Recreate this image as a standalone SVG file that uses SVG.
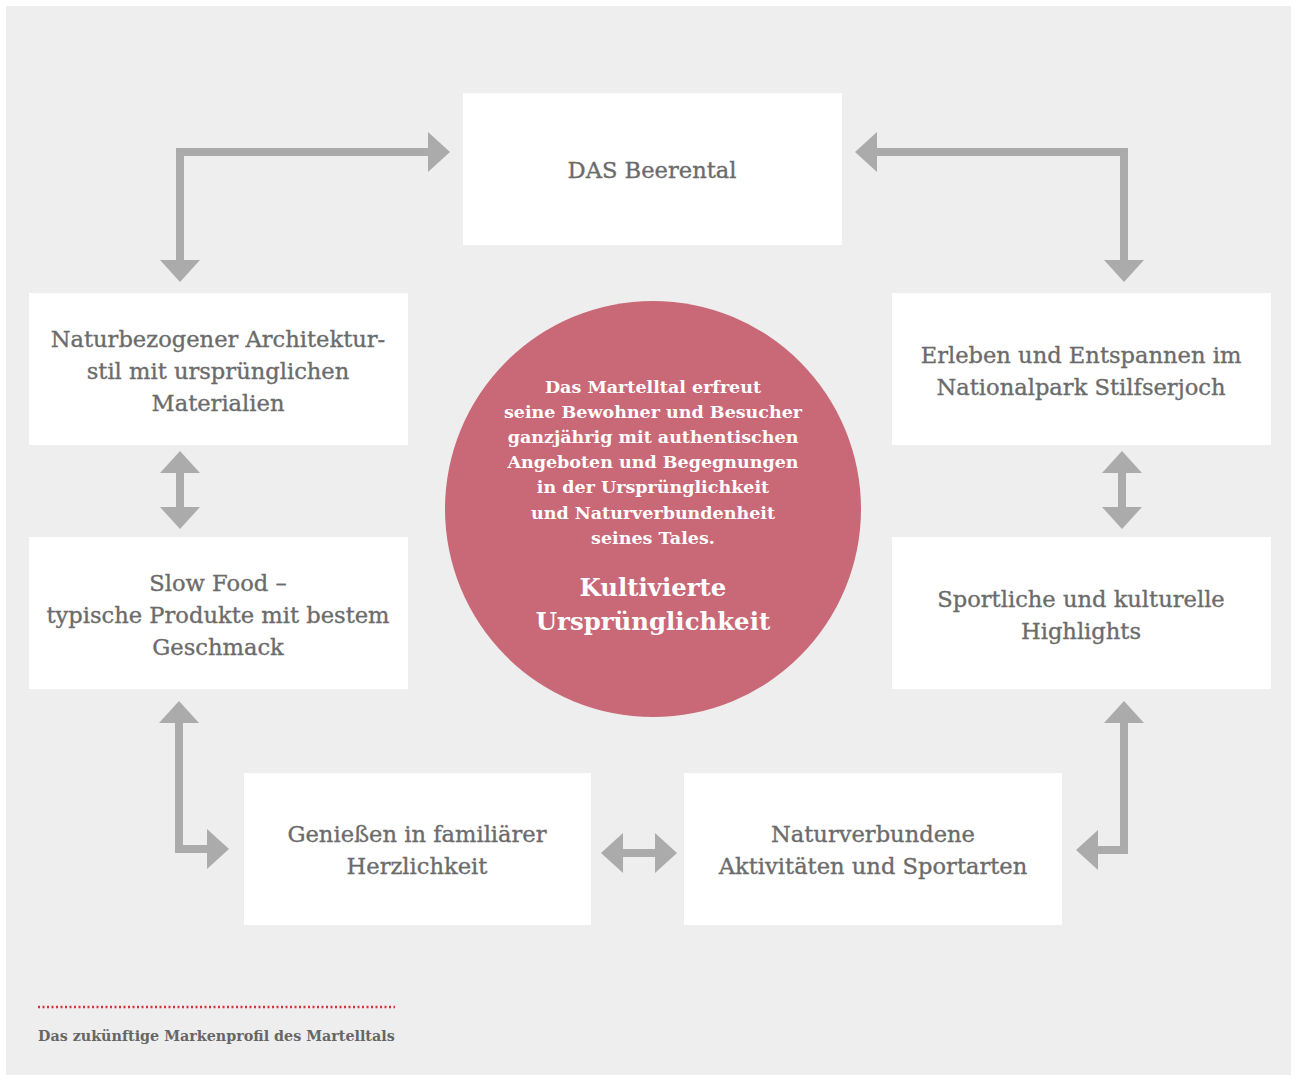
<svg xmlns="http://www.w3.org/2000/svg" width="1297" height="1080" viewBox="0 0 1297 1080">
<defs>
<marker id="ah" viewBox="0 0 22 40" refX="0" refY="20" markerWidth="22" markerHeight="40" markerUnits="userSpaceOnUse" orient="auto-start-reverse">
<path d="M0,0 L22,20 L0,40 Z" fill="#ababab"/>
</marker>
</defs>
<style>
.box{fill:#ffffff}
.t{font-family:"DejaVu Serif","Liberation Serif",serif;font-size:22.6px;fill:#6b6b6b;stroke:#6b6b6b;stroke-width:0.35;text-anchor:middle}
.c{font-family:"DejaVu Serif","Liberation Serif",serif;font-size:17.5px;font-weight:bold;fill:#ffffff;text-anchor:middle}
.ct{font-family:"DejaVu Serif","Liberation Serif",serif;font-size:24.4px;font-weight:bold;fill:#ffffff;text-anchor:middle}
.conn{fill:none;stroke:#ababab;stroke-width:8;stroke-linejoin:miter;marker-end:url(#ah)}
.both{marker-start:url(#ah)}
</style>
<rect x="0" y="0" width="1297" height="1080" fill="#ffffff"/>
<rect x="6" y="6" width="1285" height="1069" fill="#eeeeee"/>

<g id="connectors">
<path class="conn both" d="M180,260 V152 H428"/>
<path class="conn both" d="M877,152 H1124 V260"/>
<path class="conn both" d="M180,473 V507"/>
<path class="conn both" d="M1122,473 V507"/>
<path class="conn both" d="M179,723 V849 H207"/>
<path class="conn both" d="M623,853 H655"/>
<path class="conn both" d="M1124,723 V850 H1098"/>
</g>

<g id="beerental">
<rect class="box" x="463" y="93" width="379" height="152"/>
<text class="t" x="652" y="178">DAS Beerental</text>
</g>
<g id="architektur">
<rect class="box" x="29" y="293" width="379" height="152"/>
<text class="t" x="218" y="347">Naturbezogener Architektur-</text>
<text class="t" x="218" y="379">stil mit ursprünglichen</text>
<text class="t" x="218" y="411">Materialien</text>
</g>
<g id="slowfood">
<rect class="box" x="29" y="537" width="379" height="152"/>
<text class="t" x="218" y="591">Slow Food  –</text>
<text class="t" x="218" y="623">typische Produkte mit bestem</text>
<text class="t" x="218" y="655">Geschmack</text>
</g>
<g id="erleben">
<rect class="box" x="892" y="293" width="379" height="152"/>
<text class="t" x="1081" y="363">Erleben und Entspannen im</text>
<text class="t" x="1081" y="395">Nationalpark Stilfserjoch</text>
</g>
<g id="sportlich">
<rect class="box" x="892" y="537" width="379" height="152"/>
<text class="t" x="1081" y="607">Sportliche und kulturelle</text>
<text class="t" x="1081" y="639">Highlights</text>
</g>
<g id="geniessen">
<rect class="box" x="244" y="773" width="347" height="152"/>
<text class="t" x="417" y="842">Genießen in familiärer</text>
<text class="t" x="417" y="874">Herzlichkeit</text>
</g>
<g id="aktivitaeten">
<rect class="box" x="684" y="773" width="378" height="152"/>
<text class="t" x="873" y="842">Naturverbundene</text>
<text class="t" x="873" y="874">Aktivitäten und Sportarten</text>
</g>

<g id="center">
<circle cx="653" cy="509" r="208" fill="#c96877"/>
<text class="c" x="653" y="393">Das Martelltal erfreut</text>
<text class="c" x="653" y="418">seine Bewohner und Besucher</text>
<text class="c" x="653" y="443">ganzjährig mit authentischen</text>
<text class="c" x="653" y="468">Angeboten und Begegnungen</text>
<text class="c" x="653" y="493">in der Ursprünglichkeit</text>
<text class="c" x="653" y="519">und Naturverbundenheit</text>
<text class="c" x="653" y="544">seines Tales.</text>
<text class="ct" x="653" y="596">Kultivierte</text>
<text class="ct" x="653" y="630">Ursprünglichkeit</text>
</g>

<g id="caption">
<line x1="38" y1="1007" x2="395" y2="1007" stroke="#d9303f" stroke-width="2.5" stroke-dasharray="2 2.5"/>
<text x="38" y="1041" style="font-family:'DejaVu Serif','Liberation Serif',serif;font-size:14.3px;font-weight:bold;fill:#666666">Das zukünftige Markenprofil des Martelltals</text>
</g>
</svg>
